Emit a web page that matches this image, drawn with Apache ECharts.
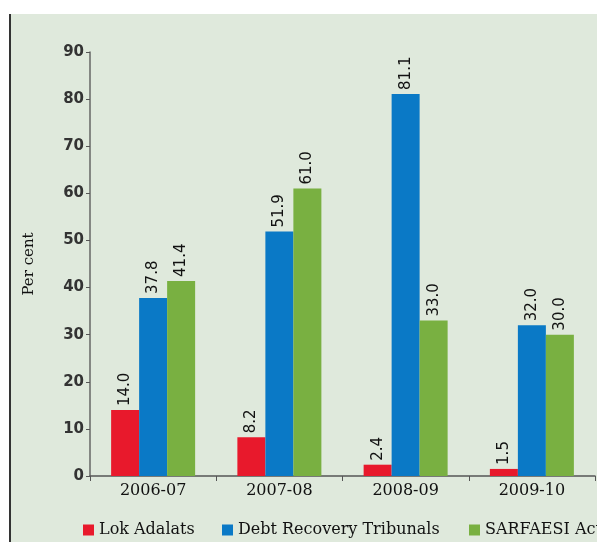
<!DOCTYPE html>
<html><head><meta charset="utf-8">
<script src="https://cdn.jsdelivr.net/npm/echarts@6/dist/echarts.min.js"></script>
<style>html,body{margin:0;padding:0;background:#fff}#c{width:597px;height:542px}</style>
</head><body><div id="c"></div>
<script>
const categories = ['2006-07', '2007-08', '2008-09', '2009-10'];
const lokAdalats = [14.0, 8.2, 2.4, 1.5];
const debtRecovery = [37.8, 51.9, 81.1, 32.0];
const sarfaesi = [41.4, 61.0, 33.0, 30.0];
const seriesNames = ['Lok Adalats', 'Debt Recovery Tribunals', 'SARFAESI Act'];

const chart = echarts.init(document.getElementById('c'));
const labelCfg = {
  show: true, position: 'top', rotate: 90, align: 'left', verticalAlign: 'middle',
  distance: 4, color: '#111', fontFamily: 'DejaVu Sans', fontSize: 15,
  formatter: p => p.value.toFixed(1)
};
function mk(name, data, color) {
  return { name, type: 'bar', data, barWidth: 28, barGap: '0%',
    itemStyle: { color }, label: labelCfg };
}
const legendLefts = [83, 222, 469];
const legends = seriesNames.map((n, i) => ({
  data: [n], left: legendLefts[i], top: 522, icon: 'rect', itemWidth: 11, itemHeight: 11,
  width: 300, padding: 0,
  textStyle: { fontFamily: 'DejaVu Serif', fontSize: 16, color: '#111' }
}));
chart.setOption({
  animation: false,
  graphic: [
    { type: 'rect', shape: { x: 11, y: 14, width: 586, height: 528 }, style: { fill: '#dfe9dc' }, z: -10 },
    { type: 'rect', shape: { x: 9, y: 14, width: 2, height: 528 }, style: { fill: '#333' }, z: -9 }
  ],
  grid: { left: 90, right: 2, top: 52, bottom: 66 },
  legend: legends,
  xAxis: {
    type: 'category', data: categories,
    axisLine: { lineStyle: { color: '#555', width: 1.5 } },
    axisTick: { show: true, length: 5, lineStyle: { color: '#555' } },
    axisLabel: { fontFamily: 'DejaVu Serif', fontSize: 16, color: '#111', margin: 7 }
  },
  yAxis: {
    type: 'value', min: 0, max: 90, interval: 10,
    name: 'Per cent', nameLocation: 'middle', nameGap: 53,
    nameTextStyle: { fontFamily: 'DejaVu Serif', fontSize: 15, color: '#111' },
    axisLine: { show: true, lineStyle: { color: '#666', width: 1.5 } },
    axisTick: { show: true, length: 4, lineStyle: { color: '#555' } },
    splitLine: { show: false },
    axisLabel: { fontFamily: 'DejaVu Sans', fontWeight: 'bold', fontSize: 15, color: '#333', margin: 6 }
  },
  series: [
    mk(seriesNames[0], lokAdalats, '#e8192c'),
    mk(seriesNames[1], debtRecovery, '#0a79c6'),
    mk(seriesNames[2], sarfaesi, '#79b041')
  ]
});
</script></body></html>
